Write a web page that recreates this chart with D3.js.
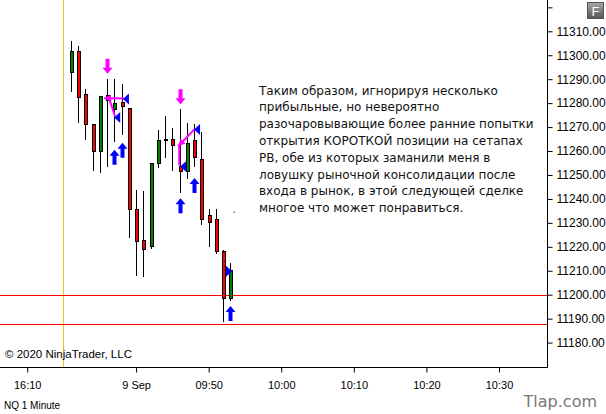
<!DOCTYPE html>
<html>
<head>
<meta charset="utf-8">
<script src="https://cdn.jsdelivr.net/npm/d3@7"></script>
<style>
  html, body { margin: 0; padding: 0; background: #fff; }
  svg { display: block; }
</style>
</head>
<body>
<div id="chart"></div>
<script>
// 1 minute bars, NQ, 9 Sep
var times  = ["09:31","09:32","09:33","09:34","09:35","09:36","09:37","09:38","09:39","09:40","09:41","09:42",
              "09:43","09:44","09:45","09:46","09:47","09:48","09:49","09:50","09:51","09:52","09:53"]
var opens  = [11292.75,11301.5,11283.75,11271,11259.75,11283,11277.5,11280.25,11277.75,11235.5,11222.5,11220,
              11255,11264.25,11265,11253.5,11251.5,11264.25,11256.5,11233,11231.5,11218.25,11198.5]
var highs  = [11305.75,11304,11285.75,11271.25,11282.75,11290,11290.25,11288,11278,11243.75,11243.5,11255,
              11268.75,11274.5,11269.5,11277.5,11271.75,11271.25,11267.75,11235.75,11236,11218.5,11213.25]
var lows   = [11284.75,11271.75,11264.5,11251.5,11250.75,11253.25,11263.75,11266.75,11223.5,11207.75,11207.5,11219,
              11252.75,11257,11251.5,11242.5,11248.5,11253.25,11229,11220,11217,11188.75,11197.5]
var closes = [11301.5,11282.25,11271,11259.75,11282.75,11281.25,11280,11278.5,11235.5,11222.25,11219,11254.75,
              11264.25,11265,11262.25,11251.5,11263,11257.5,11231.5,11230,11218,11198.5,11210]

// x axis ticks (slot = bar position on the time axis, 16:10 of the previous day is slot 0)
var xTickSlots  = [0, 15, 25, 35, 45, 55, 65]
var xTickLabels = ["16:10", "9 Sep", "09:50", "10:00", "10:10", "10:20", "10:30"]
var sessionBreak = 5

// y axis ticks
var yTicks = [11180,11190,11200,11210,11220,11230,11240,11250,11260,11270,11280,11290,11300,11310,11320]

// horizontal price lines
var levels = [11200, 11187.75]

// signal markers
var downArrowTimes  = ["09:36", "09:46"]
var downArrowPrices = [11292.25, 11279.5]
var upArrowTimes    = ["09:37", "09:38", "09:46", "09:48", "09:53"]
var upArrowPrices   = [11260.5, 11263.5, 11240.25, 11248.75, 11195.25]
var leftTriangles   = [[13.6, 11281.75], [12.4, 11274], [23.4, 11269], [21.5, 11253.5]]
var rightTriangles  = [[27.8, 11209.75]]
var pbLines = [
  { pts: [[10.6, 11282], [13.3, 11282]], head: "start" },
  { pts: [[11.4, 11281], [12.1, 11274.5]], head: null },
  { pts: [[23.1, 11269.25], [20.8, 11262]], head: "end" },
  { pts: [[20.95, 11262.5], [20.95, 11254]], head: null }
]
var dots = [[28.4, 11234.75]]

var noteLines = [
  "Таким образом, игнорируя несколько",
  "прибыльные, но невероятно",
  "разочаровывающие более ранние попытки",
  "открытия КОРОТКОЙ позиции на сетапах",
  "PB, обе из которых заманили меня в",
  "ловушку рыночной консолидации после",
  "входа в рынок, в этой следующей сделке",
  "многое что может понравиться."
]

var width = 606
var height = 414
var plotRight = 547
var plotBottom = 367

function slotOf(t) {
  var p = t.split(":")
  return (+p[0]) * 60 + (+p[1]) - (9 * 60 + 25)
}

var svg = d3.select("#chart")
  .append("svg")
  .attr("width", width)
  .attr("height", height)
  .style("font-family", "Arial, 'Liberation Sans', sans-serif")

svg.append("rect").attr("width", width).attr("height", height).attr("fill", "#fff")

var x = d3.scaleLinear().domain([0, 65]).range([27.2, 499])
var y = d3.scaleLinear().domain([11180, 11310]).range([342.6, 31.3])

var bars = times.map(function(t, i) {
  return { slot: slotOf(t), o: opens[i], h: highs[i], l: lows[i], c: closes[i] }
})

// session break
svg.append("line")
  .attr("x1", Math.round(x(sessionBreak)) + 0.5).attr("x2", Math.round(x(sessionBreak)) + 0.5)
  .attr("y1", 0).attr("y2", plotBottom)
  .attr("stroke", "#f2c318").attr("stroke-width", 1)

// price levels
svg.selectAll(".level")
  .data(levels)
  .enter()
  .append("line")
  .attr("x1", 0).attr("x2", plotRight)
  .attr("y1", function(d) { return Math.round(y(d)) + 0.5 })
  .attr("y2", function(d) { return Math.round(y(d)) + 0.5 })
  .attr("stroke", "#f00").attr("stroke-width", 1)

// candles
var candle = svg.selectAll(".candle")
  .data(bars)
  .enter()
  .append("g")
  .attr("shape-rendering", "crispEdges")

candle.append("line")
  .attr("x1", function(d) { return Math.round(x(d.slot)) + 0.5 })
  .attr("x2", function(d) { return Math.round(x(d.slot)) + 0.5 })
  .attr("y1", function(d) { return y(d.h) })
  .attr("y2", function(d) { return y(d.l) })
  .attr("stroke", "#000")

candle.append("rect")
  .attr("x", function(d) { return Math.round(x(d.slot)) - 1 })
  .attr("width", 3)
  .attr("y", function(d) { return y(Math.max(d.o, d.c)) })
  .attr("height", function(d) { return Math.max(1, y(Math.min(d.o, d.c)) - y(Math.max(d.o, d.c))) })
  .attr("fill", function(d) { return d.c >= d.o ? "#008000" : "#f00" })
  .attr("stroke", "#000")
  .attr("stroke-width", 1)

// magenta PB lines
var magenta = "#ff00ff"
pbLines.forEach(function(l) {
  var p = l.pts.map(function(q) { return [x(q[0]), y(q[1])] })
  svg.append("line")
    .attr("x1", p[0][0]).attr("y1", p[0][1])
    .attr("x2", p[1][0]).attr("y2", p[1][1])
    .attr("stroke", magenta).attr("stroke-width", 2)
  if (l.head) {
    var tip = l.head == "start" ? p[0] : p[1]
    var from = l.head == "start" ? p[1] : p[0]
    var ang = Math.atan2(tip[1] - from[1], tip[0] - from[0]) * 180 / Math.PI
    svg.append("path")
      .attr("d", "M0,0 L-7,-3.5 L-7,3.5 Z")
      .attr("transform", "translate(" + tip[0] + "," + tip[1] + ") rotate(" + ang + ")")
      .attr("fill", magenta)
  }
})

// arrows: tip at price, 10px wide, 15px tall
var arrowPath = "M0,0 L5,6 L2,6 L2,15 L-2,15 L-2,6 L-5,6 Z"
svg.selectAll(".down")
  .data(downArrowTimes)
  .enter()
  .append("path")
  .attr("d", arrowPath)
  .attr("transform", function(d, i) {
    return "translate(" + (Math.round(x(slotOf(d))) + 0.5) + "," + y(downArrowPrices[i]) + ") scale(1,-1)"
  })
  .attr("fill", magenta)

svg.selectAll(".up")
  .data(upArrowTimes)
  .enter()
  .append("path")
  .attr("d", arrowPath)
  .attr("transform", function(d, i) {
    return "translate(" + (Math.round(x(slotOf(d))) + 0.5) + "," + y(upArrowPrices[i]) + ")"
  })
  .attr("fill", "#0000ff")

// triangles
svg.selectAll(".ltri")
  .data(leftTriangles)
  .enter()
  .append("path")
  .attr("d", "M-3,0 L3,-5.5 L3,5.5 Z")
  .attr("transform", function(d) { return "translate(" + x(d[0]) + "," + y(d[1]) + ")" })
  .attr("fill", "#0000ff")

svg.selectAll(".rtri")
  .data(rightTriangles)
  .enter()
  .append("path")
  .attr("d", "M3,0 L-3,-5.5 L-3,5.5 Z")
  .attr("transform", function(d) { return "translate(" + x(d[0]) + "," + y(d[1]) + ")" })
  .attr("fill", "#0000ff")

svg.selectAll(".dot")
  .data(dots)
  .enter()
  .append("rect")
  .attr("x", function(d) { return x(d[0]) })
  .attr("y", function(d) { return y(d[1]) })
  .attr("width", 1.5).attr("height", 1.5)
  .attr("fill", "#c040c0")

// axes frame
svg.append("line")
  .attr("x1", plotRight + 0.5).attr("x2", plotRight + 0.5)
  .attr("y1", 0).attr("y2", plotBottom + 1)
  .attr("stroke", "#000")
svg.append("line")
  .attr("x1", 0).attr("x2", plotRight + 1)
  .attr("y1", plotBottom + 0.5).attr("y2", plotBottom + 0.5)
  .attr("stroke", "#000")

// y axis
var yAxis = d3.axisRight(y)
  .tickValues(yTicks)
  .tickSize(5)
  .tickPadding(4)
  .tickFormat(function(d) { return y(d) < 20 ? "" : d3.format(".2f")(d) })

var gy = svg.append("g")
  .attr("transform", "translate(" + (plotRight + 0.5) + ",0)")
  .call(yAxis)
gy.select(".domain").remove()
gy.selectAll("text").style("font-size", "12px").attr("fill", "#000")
gy.selectAll("line").attr("stroke", "#000")

// x axis
var xAxis = d3.axisBottom(x)
  .tickValues(xTickSlots)
  .tickSize(5)
  .tickPadding(9)
  .tickFormat(function(d, i) { return xTickLabels[i] })

var gx = svg.append("g")
  .attr("transform", "translate(0," + (plotBottom + 0.5) + ")")
  .call(xAxis)
gx.select(".domain").remove()
gx.selectAll("text").style("font-size", "11px").attr("fill", "#000")
gx.selectAll("line").attr("stroke", "#000")

// note text
svg.append("g")
  .selectAll("text")
  .data(noteLines)
  .enter()
  .append("text")
  .attr("x", 259)
  .attr("y", function(d, i) { return 94.5 + i * 16.8 })
  .text(function(d) { return d })
  .style("font-family", "'Comic Sans MS', 'DejaVu Sans', sans-serif")
  .style("font-size", "12px")
  .attr("fill", "#111")

// footer texts
svg.append("text")
  .attr("x", 5).attr("y", 358)
  .text("© 2020 NinjaTrader, LLC")
  .style("font-size", "11.5px")
  .attr("fill", "#000")

svg.append("text")
  .attr("x", 4).attr("y", 409)
  .text("NQ 1 Minute")
  .style("font-size", "10px")
  .attr("fill", "#000")

svg.append("text")
  .attr("x", 597).attr("y", 407)
  .attr("text-anchor", "end")
  .text("Tlap.com")
  .style("font-family", "'Comic Sans MS', 'DejaVu Sans', sans-serif")
  .style("font-size", "16px")
  .attr("fill", "#777")

// "F" button
var grad = svg.append("defs").append("linearGradient")
  .attr("id", "fbtn").attr("x1", 0).attr("y1", 0).attr("x2", 0).attr("y2", 1)
grad.append("stop").attr("offset", "0%").attr("stop-color", "#a8a8a8")
grad.append("stop").attr("offset", "100%").attr("stop-color", "#555")
svg.append("rect")
  .attr("x", 587.5).attr("y", 2.5).attr("width", 16).attr("height", 16)
  .attr("fill", "url(#fbtn)").attr("stroke", "#555")
svg.append("text")
  .attr("x", 595.5).attr("y", 15.5)
  .attr("text-anchor", "middle")
  .text("F")
  .style("font-size", "13px")
  .attr("fill", "#fff")
</script>
</body>
</html>
